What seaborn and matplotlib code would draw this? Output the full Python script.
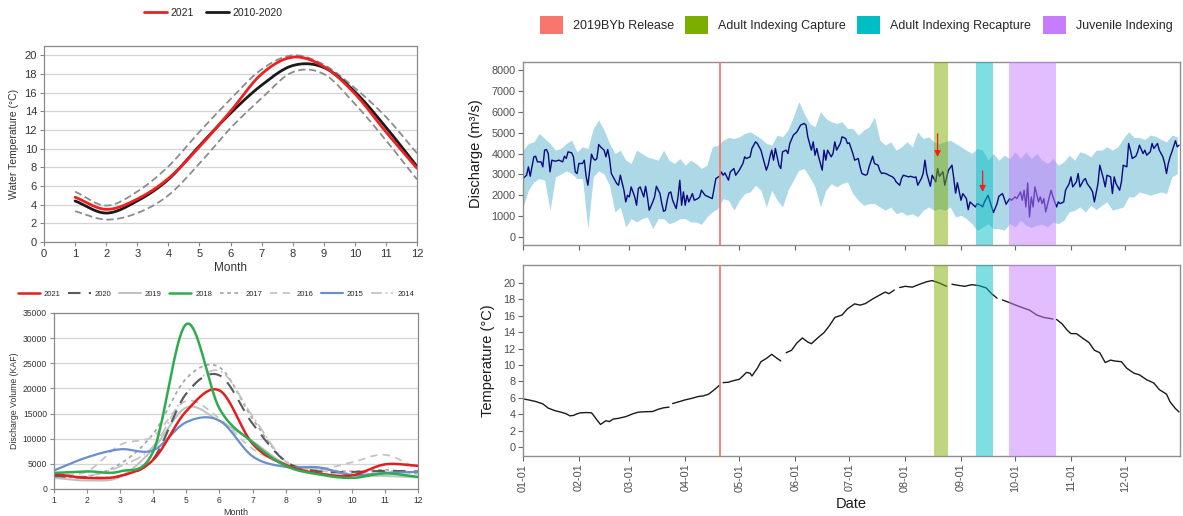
import numpy as np
import pandas as pd
import matplotlib
matplotlib.use("Agg")
import matplotlib.pyplot as plt
from matplotlib.patches import Patch
from matplotlib.lines import Line2D
import seaborn as sns

sns.set_theme(style="white")
plt.rcParams["font.family"] = ["Liberation Sans", "DejaVu Sans"]

# ---------------- monthly water temperature (top left) ----------------
months = list(range(1, 13))
wt_2021 = [4.8, 3.5, 4.6, 6.8, 10.2, 14.0, 18.0, 19.8, 18.8, 15.9, 11.8, 7.9]
wt_mean = [4.4, 3.1, 4.4, 6.7, 10.3, 13.8, 16.8, 18.9, 18.7, 16.1, 12.3, 8.1]
wt_hi = [5.4, 3.9, 5.4, 8.1, 11.8, 15.3, 18.5, 20.0, 19.0, 16.5, 13.4, 9.5]
wt_lo = [3.3, 2.4, 3.1, 5.0, 8.4, 12.2, 15.4, 18.2, 18.0, 14.8, 10.9, 6.7]

# ---------------- monthly discharge volume (bottom left) ----------------
q_years = ["2021", "2020", "2019", "2018", "2017", "2016", "2015", "2014"]
q2021 = [3000, 2200, 2600, 5800, 15500, 19600, 9000, 4800, 3100, 2700, 4900, 4600]
q2020 = [2600, 2300, 2600, 6000, 19000, 22600, 13000, 5500, 3500, 3400, 3600, 3500]
q2019 = [2200, 1700, 2400, 8000, 16200, 13500, 9500, 5000, 4200, 2800, 2600, 2300]
q2018 = [3200, 3500, 3500, 7500, 32800, 16000, 9300, 4600, 2900, 2200, 3100, 2400]
q2017 = [2400, 2500, 5000, 11000, 22000, 24200, 14000, 5500, 4000, 3500, 3800, 3000]
q2016 = [2700, 3500, 8800, 10500, 17500, 14000, 8000, 5000, 4000, 5300, 6800, 4000]
q2015 = [3700, 6300, 7900, 7700, 13300, 13600, 6500, 4400, 4300, 2800, 3200, 3400]
q2014 = [2500, 2600, 4500, 8500, 19000, 23500, 14500, 5500, 3700, 3200, 3600, 3200]

# ---------------- daily discharge (day of year, m3/s) ----------------
dis_day = [0, 2, 3, 4, 6, 7, 8, 10, 11, 12, 13, 14, 15, 16, 18, 20, 22, 23, 24, 25, 27, 28, 29, 30,
           31, 33, 34, 35, 36, 37, 38, 39, 40, 41, 42, 43, 45, 46, 47, 48, 49, 50, 52, 53, 54, 56,
           57, 58, 59, 60, 62, 63, 64, 65, 67, 68, 69, 70, 72, 73, 74, 76, 77, 78, 79, 80, 81, 82,
           83, 85, 86, 87, 88, 89, 90, 91, 92, 94, 95, 97, 98, 99, 101, 103, 105, 107, 109, 110,
           111, 112, 114, 115, 117, 118, 120, 122, 123, 124, 126, 127, 129, 130, 132, 133, 135,
           136, 137, 138, 139, 140, 142, 143, 144, 146, 147, 148, 150, 152, 154, 156, 157, 158,
           160, 161, 162, 163, 164, 166, 167, 168, 169, 171, 172, 173, 174, 176, 177, 179, 180,
           181, 183, 184, 186, 187, 188, 190, 191, 192, 194, 195, 197, 198, 199, 200, 202, 203,
           205, 206, 207, 209, 210, 211, 213, 214, 215, 217, 218, 219, 221, 222, 223, 224, 226,
           227, 229, 230, 231, 233, 234, 236, 238, 239, 240, 241, 243, 244, 246, 247, 248, 250,
           251, 252, 254, 255, 256, 258, 260, 261, 263, 264, 266, 267, 268, 270, 271, 273, 274,
           276, 277, 278, 279, 280, 281, 282, 283, 284, 286, 287, 288, 289, 290, 292, 293, 294,
           296, 297, 298, 300, 301, 303, 304, 305, 307, 308, 309, 311, 312, 313, 315, 316, 317,
           319, 320, 322, 323, 324, 326, 327, 328, 329, 331, 332, 333, 335, 336, 337, 338, 340,
           341, 342, 344, 345, 346, 348, 349, 350, 352, 353, 355, 356, 357, 358, 359, 360, 362,
           363, 364]
dis_mean = [2800, 2960, 3360, 2910, 3840, 3870, 3600, 3600, 3360, 4160, 4190, 4000, 3120, 3680,
            3630, 3680, 3600, 3870, 3760, 4080, 4030, 3840, 3120, 3040, 3520, 3520, 3680, 2910,
            2480, 3200, 3970, 3760, 3680, 3760, 4430, 4320, 4160, 3840, 4190, 3760, 3040, 2880,
            2560, 2480, 2960, 2240, 1680, 2000, 1920, 2400, 1920, 1520, 2320, 2400, 1920, 2430,
            1920, 1280, 1680, 1920, 2430, 2080, 1600, 1230, 1280, 1760, 2110, 2160, 1760, 1360,
            1920, 2720, 1520, 2160, 1520, 2000, 1680, 2080, 1760, 1840, 1920, 2240, 2000, 1920,
            1840, 2800, 2910, 3120, 2960, 3070, 2720, 3120, 3280, 2960, 3200, 3520, 3840, 3760,
            3840, 4240, 4560, 4480, 4160, 3840, 3200, 3440, 3840, 4160, 3680, 4240, 3440, 3280,
            4080, 4160, 4000, 4480, 4880, 5040, 5360, 5440, 5360, 4800, 4160, 4560, 3920, 4240,
            3840, 3200, 4160, 3680, 4160, 3840, 4000, 4560, 4160, 4480, 4800, 4720, 4480, 4510,
            4000, 3680, 3760, 3360, 3040, 2960, 3010, 3360, 3870, 3520, 3440, 3170, 3040, 3070,
            3010, 2960, 2880, 2800, 2640, 2480, 2800, 2960, 2910, 2880, 2910, 2850, 2880, 2480,
            2800, 3040, 3680, 3040, 2430, 2960, 2640, 3280, 2910, 3120, 2480, 3200, 3440, 2800,
            2100, 2600, 1760, 2080, 1840, 1310, 1680, 1520, 1440, 1600, 1520, 1440, 1680, 2000,
            1440, 1170, 1600, 1950, 2080, 1840, 1570, 1840, 1760, 1920, 1840, 2160, 1760, 2240,
            1440, 2590, 960, 1920, 1440, 2400, 1680, 1920, 1600, 1840, 1200, 1920, 2240, 1920,
            1440, 1680, 1600, 1680, 2240, 2560, 2880, 2400, 2640, 3040, 2400, 2720, 2800, 2560,
            2320, 2160, 1680, 2560, 3440, 2800, 2400, 2960, 2880, 2080, 2880, 2560, 2240, 2640,
            3440, 3360, 4480, 4160, 3760, 3870, 4080, 4400, 4000, 4160, 3920, 4080, 4480, 4240,
            4480, 4160, 3840, 3520, 3040, 3520, 3840, 4080, 4610, 4320, 4400]

band_day = list(range(0, 364, 3))
band_low = [1440, 2240, 2640, 2800, 2720, 1280, 2880, 3010, 3170, 3040, 2800, 2800, 400, 2880,
            3170, 3010, 2480, 1200, 1440, 480, 880, 720, 880, 960, 400, 880, 880, 640, 720, 880,
            880, 720, 720, 610, 960, 1200, 1360, 1840, 1760, 1280, 1760, 2080, 2160, 2480, 2240,
            1440, 2240, 1760, 1440, 2240, 2720, 3200, 3280, 2880, 2400, 1440, 2240, 2560, 2400,
            2560, 2640, 2080, 1760, 1520, 1600, 1600, 1440, 1280, 1440, 1120, 1200, 1040, 1120,
            960, 1280, 1440, 1280, 1360, 1280, 1440, 960, 1040, 880, 640, 320, 480, 640, 400,
            400, 320, 640, 480, 800, 560, 450, 560, 610, 480, 720, 640, 800, 1200, 1280, 1440,
            1200, 1520, 1310, 1520, 1680, 1280, 1360, 1440, 1920, 1920, 2160, 2080, 2000, 2080,
            2160, 2080, 2880, 3040]
band_high = [4160, 4480, 4560, 4960, 4720, 4480, 4160, 4240, 4480, 4640, 4080, 4320, 4240, 5200,
             5600, 5120, 4480, 4000, 4160, 3680, 3520, 4160, 4000, 3840, 3760, 3680, 4160, 3680,
             3520, 3760, 3440, 3680, 3520, 3280, 3440, 4320, 4400, 4640, 4770, 4720, 4800, 4960,
             5040, 4880, 4720, 4480, 4400, 4880, 4800, 5120, 5760, 6480, 5920, 5440, 5280, 6000,
             5680, 5520, 5440, 5520, 5200, 5200, 4880, 5120, 5280, 5760, 4640, 4400, 4560, 4160,
             4320, 4560, 4320, 5040, 4720, 4800, 4560, 4480, 4560, 4640, 4480, 4320, 4160, 4000,
             4240, 4160, 3680, 4000, 3680, 3920, 3760, 4080, 3760, 4080, 3760, 4000, 3680, 3520,
             3760, 3440, 3600, 3920, 3680, 4080, 4000, 3840, 4160, 4160, 4320, 4160, 4320, 4720,
             5040, 4770, 4770, 4670, 4880, 4830, 4670, 4560, 4880, 4800]

# ---------------- daily water temperature (NaN marks logger gaps) ----------------
nan = np.nan
temp_day = [0, 4, 7, 11, 14, 18, 21, 24, 26, 28, 30, 32, 35, 38, 39, 41, 43, 44, 46, 48, 50, 53,
            57, 61, 64, 68, 72, 75, 78, 81, 82, 83, 87, 90, 94, 97, 100, 103, 106, 109, 110, 111,
            114, 116, 120, 122, 124, 126, 127, 130, 132, 135, 138, 141, 143, 144, 146, 149, 152,
            155, 158, 160, 164, 167, 170, 173, 177, 180, 184, 187, 190, 194, 198, 201, 203, 206,
            207, 209, 212, 216, 220, 224, 227, 231, 235, 236, 238, 242, 245, 249, 253, 257, 260,
            263, 264, 266, 270, 273, 277, 281, 285, 289, 293, 294, 295, 296, 299, 302, 304, 307,
            311, 314, 317, 320, 323, 326, 328, 332, 335, 339, 342, 346, 350, 353, 357, 359, 362,
            364]
temp_val = [5.87, 5.7, 5.55, 5.26, 4.74, 4.41, 4.25, 4.05, 3.8, 3.85, 4.05, 4.17, 4.2, 4.17, 3.9,
            3.3, 2.75, 2.9, 3.2, 3.1, 3.4, 3.5, 3.7, 4.05, 4.25, 4.3, 4.33, 4.6, 4.78, 4.86, nan,
            5.3, 5.55, 5.75, 5.95, 6.15, 6.23, 6.44, 6.96, 7.53, nan, 7.85, 7.9, 8.05, 8.26, 8.66,
            9.1, 9.0, 8.66, 9.6, 10.4, 10.8, 11.3, 10.8, 10.5, nan, 11.5, 11.8, 12.7, 13.3, 12.8,
            12.6, 13.4, 13.95, 14.8, 15.8, 16.1, 16.85, 17.46, 17.3, 17.5, 18.06, 18.55, 18.9,
            18.7, 19.15, nan, 19.45, 19.6, 19.5, 19.85, 20.16, 20.3, 20.0, 19.6, nan, 19.85, 19.7,
            19.6, 19.8, 19.68, 19.4, 18.7, 18.15, nan, 17.94, 17.6, 17.34, 17.0, 16.7, 16.1, 15.8,
            15.65, 15.6, nan, 15.56, 15.04, 14.23, 13.83, 13.83, 13.2, 12.74, 11.8, 11.5, 10.3,
            10.6, 10.5, 10.4, 9.6, 9.0, 8.8, 8.2, 7.8, 7.0, 6.45, 5.5, 4.68, 4.27]

# ---------------- sampling events ----------------
event_names = ["2019BYb Release", "Adult Indexing Capture", "Adult Indexing Recapture",
               "Juvenile Indexing"]
event_colors = ["#F8766D", "#7CAE00", "#00BFC4", "#C77CFF"]
release_day = 109.5
event_start = [228, 251.5, 269.5]
event_end = [236, 260.5, 295.5]
arrow_day = [230, 255]
arrow_top = [4950, 3160]
arrow_tip = [3830, 2160]
month_labels = ["01-01", "02-01", "03-01", "04-01", "05-01", "06-01", "07-01", "08-01",
                "09-01", "10-01", "11-01", "12-01"]


def smooth(x, y, n=24):
    """Catmull-Rom curve through the points (smoothed line rendering)."""
    x = np.asarray(x, float)
    y = np.asarray(y, float)
    px = np.concatenate([[2 * x[0] - x[1]], x, [2 * x[-1] - x[-2]]])
    py = np.concatenate([[2 * y[0] - y[1]], y, [2 * y[-1] - y[-2]]])
    t = np.linspace(0, 1, n, endpoint=False)
    xs, ys = [], []
    for i in range(1, len(px) - 2):
        for p, out in ((px, xs), (py, ys)):
            p0, p1, p2, p3 = p[i - 1], p[i], p[i + 1], p[i + 2]
            out.append(0.5 * (2 * p1 + (-p0 + p2) * t + (2 * p0 - 5 * p1 + 4 * p2 - p3) * t ** 2
                              + (-p0 + 3 * p1 - 3 * p2 + p3) * t ** 3))
    xs.append([x[-1]])
    ys.append([y[-1]])
    return np.concatenate(xs), np.concatenate(ys)


W, H = 1183, 516
fig = plt.figure(figsize=(W / 100, H / 100), dpi=100)


def box(l, t, r, b):
    return [l / W, 1 - b / H, (r - l) / W, (b - t) / H]


def excel_axes(ax, fs):
    for s in ax.spines.values():
        s.set_color("#8a8a8a")
        s.set_linewidth(0.9)
    ax.tick_params(axis="both", which="both", direction="out", length=3, width=0.8,
                   color="#8a8a8a", labelsize=fs, labelcolor="#333333", pad=2,
                   bottom=True, left=True)
    ax.grid(axis="y", color="#d4d4d4", linewidth=0.9)
    ax.grid(axis="x", visible=False)
    ax.set_axisbelow(True)


# ---- top left: water temperature by month ----
ax1 = fig.add_axes(box(44, 46, 417, 242))
for vals in (wt_hi, wt_lo):
    sx, sy = smooth(months, vals)
    sns.lineplot(x=sx, y=sy, ax=ax1, color="#8c8c8c", linewidth=1.3, sort=False,
                 estimator=None, linestyle=(0, (4, 2)))
sx, sy = smooth(months, wt_mean)
sns.lineplot(x=sx, y=sy, ax=ax1, color="#1a1a1a", linewidth=2, sort=False, estimator=None)
sx, sy = smooth(months, wt_2021)
sns.lineplot(x=sx, y=sy, ax=ax1, color="#ee2020", linewidth=2, sort=False, estimator=None)
ax1.set_xlim(0, 12)
ax1.set_ylim(0, 21)
ax1.set_xticks(range(0, 13))
ax1.set_yticks(range(0, 21, 2))
excel_axes(ax1, 8)
ax1.set_xlabel("Month", fontsize=8.5, color="#333333", labelpad=2)
ax1.set_ylabel("Water Temperature (°C)", fontsize=7.5, color="#333333", labelpad=4)
fig.legend(handles=[Line2D([], [], color="#ee2020", lw=2), Line2D([], [], color="#1a1a1a", lw=2)],
           labels=["2021", "2010-2020"], loc="center", bbox_to_anchor=(213 / W, 1 - 13 / H),
           ncol=2, frameon=False, fontsize=7.5, handlelength=2.2, handletextpad=0.3,
           columnspacing=1.2)

# ---- bottom left: discharge volume by month ----
ax2 = fig.add_axes(box(54, 313, 418, 489))
q_series = [q2021, q2020, q2019, q2018, q2017, q2016, q2015, q2014]
q_colors = ["#e02020", "#5a5a5a", "#c0c0c0", "#2fab4f", "#a8a8a8", "#c4c4c4", "#6b8fcc", "#c4c4c4"]
q_styles = ["-", (0, (6, 4)), "-", "-", (0, (2, 2)), (0, (4, 3)), "-", (0, (6, 2, 1, 2))]
q_widths = [1.8, 1.5, 1.4, 1.8, 1.3, 1.3, 1.6, 1.3]
order = [2, 4, 5, 7, 1, 6, 0, 3]
for i in order:
    sx, sy = smooth(months, q_series[i])
    sns.lineplot(x=sx, y=sy, ax=ax2, color=q_colors[i], linewidth=q_widths[i], sort=False,
                 estimator=None, linestyle=q_styles[i])
ax2.set_xlim(1, 12)
ax2.set_ylim(0, 35000)
ax2.set_xticks(range(1, 13))
ax2.set_yticks(range(0, 35001, 5000))
excel_axes(ax2, 6.2)
ax2.set_xlabel("Month", fontsize=6.5, color="#333333", labelpad=2)
ax2.set_ylabel("Discharge Volume (KAF)", fontsize=6.3, color="#333333", labelpad=3)
fig.legend(handles=[Line2D([], [], color=q_colors[i], lw=q_widths[i], linestyle=q_styles[i])
                    for i in range(8)],
           labels=q_years, loc="center", bbox_to_anchor=(216 / W, 1 - 294 / H), ncol=8,
           frameon=False, fontsize=5.5, handlelength=2.9, handletextpad=0.5, columnspacing=1.0)

# ---- right: daily discharge and temperature ----
month_start = list(pd.date_range("2021-01-01", periods=12, freq="MS").dayofyear - 1)


def gg_axes(ax):
    for s in ax.spines.values():
        s.set_color("#8f8f8f")
        s.set_linewidth(1.0)
    ax.tick_params(axis="both", direction="out", length=3.5, width=0.8, color="#666666",
                   labelsize=7.8, labelcolor="#4d4d4d", pad=2, bottom=True, left=True)
    ax.grid(False)
    ax.set_xlim(0, 364.5)
    ax.set_xticks(month_start)


def events(ax):
    for s, e, c in zip(event_start, event_end, event_colors[1:]):
        ax.axvspan(s, e, color=c, alpha=0.5, lw=0, zorder=3)
    ax.axvline(release_day, color=event_colors[0], lw=1.3, zorder=4)


ax3 = fig.add_axes(box(523, 62, 1180, 245))
ax3.fill_between(band_day, band_low, band_high, color="#add8e6", lw=0, zorder=1)
sns.lineplot(x=dis_day, y=dis_mean, ax=ax3, color="#0a0a80", linewidth=1.0, estimator=None,
             zorder=2)
events(ax3)
for d, a, b in zip(arrow_day, arrow_top, arrow_tip):
    ax3.annotate("", xy=(d, b), xytext=(d, a), zorder=5,
                 arrowprops=dict(arrowstyle="-|>", color="#ff1a1a", lw=0.9,
                                 mutation_scale=9, shrinkA=0, shrinkB=0))
ax3.set_ylim(-383, 8383)
ax3.set_yticks(range(0, 8001, 1000))
gg_axes(ax3)
ax3.set_xticklabels([])
ax3.set_xlabel("")
ax3.set_ylabel("Discharge (m³/s)", fontsize=10.5, color="#1a1a1a", labelpad=6)

ax4 = fig.add_axes(box(523, 265, 1180, 456))
tdf = pd.DataFrame({"day": temp_day, "temp": temp_val})
tdf["seg"] = tdf["temp"].isna().cumsum()
tdf = tdf.dropna()
sns.lineplot(data=tdf, x="day", y="temp", units="seg", estimator=None, ax=ax4,
             color="#1a1a1a", linewidth=1.0, zorder=2)
events(ax4)
ax4.set_ylim(-1.1, 22.2)
ax4.set_yticks(range(0, 21, 2))
gg_axes(ax4)
ax4.set_xticklabels(month_labels, rotation=90)
ax4.set_xlabel("Date", fontsize=10.5, color="#1a1a1a", labelpad=4)
ax4.set_ylabel("Temperature (°C)", fontsize=10.5, color="#1a1a1a", labelpad=6)

fig.legend(handles=[Patch(facecolor=c, edgecolor="none") for c in event_colors],
           labels=event_names, loc="center", bbox_to_anchor=(856 / W, 1 - 25 / H), ncol=4,
           frameon=False, fontsize=9, handlelength=1.85, handleheight=1.85,
           handletextpad=0.8, columnspacing=0.9)

fig.savefig("out.png", dpi=100, facecolor="white")
